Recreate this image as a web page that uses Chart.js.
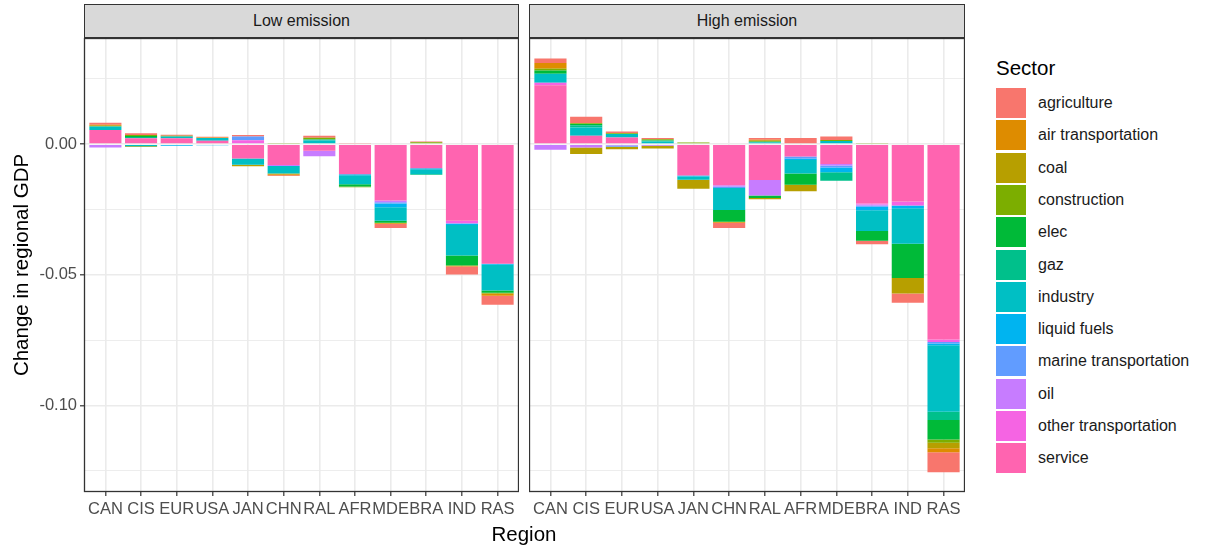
<!DOCTYPE html>
<html>
<head>
<meta charset="utf-8">
<script src="https://cdn.jsdelivr.net/npm/chart.js@4.4.0/dist/chart.umd.min.js"></script>
<style>
  html, body { margin: 0; padding: 0; background: #fff; }
  body { width: 1208px; height: 546px; overflow: hidden; position: relative; font-family: "Liberation Sans", Arial, sans-serif; }
  canvas { position: absolute; top: 0; }
  .strip { position: absolute; top: 4px; height: 34px; box-sizing: border-box; background: #D9D9D9; border: 1.3px solid #333333; color: #1A1A1A; font-size: 16px; text-align: center; line-height: 31px; z-index: 2; }
  .xtitle { position: absolute; left: 424px; width: 200px; top: 522px; height: 24px; line-height: 24px; text-align: center; font-size: 20.5px; color: #000; }
  .legend { position: absolute; left: 996px; top: 56px; }
  .legend .ltitle { position: absolute; left: 0; top: 0; font-size: 20.5px; line-height: 24px; color: #000; white-space: nowrap; }
  .legend .item { position: absolute; left: 0; height: 30px; white-space: nowrap; }
  .legend .box { position: absolute; left: 0; top: 0; width: 30px; height: 30px; }
  .legend .lab { position: absolute; left: 42px; top: 0; line-height: 30px; font-size: 16px; color: #1A1A1A; }
</style>
</head>
<body>
<canvas id="cLow" width="519" height="546" style="left:0px;width:519px;height:546px"></canvas>
<canvas id="cHigh" width="436" height="546" style="left:529px;width:436px;height:546px"></canvas>
<div class="strip" style="left:84px;width:435px">Low emission</div>
<div class="strip" style="left:529px;width:436px">High emission</div>
<div class="xtitle">Region</div>
<div class="legend" id="legend"></div>
<script>
// ---- categories & series ----
const regions = ["CAN","CIS","EUR","USA","JAN","CHN","RAL","AFR","MDE","BRA","IND","RAS"];
const sectors = ["agriculture","air transportation","coal","construction","elec","gaz","industry","liquid fuels","marine transportation","oil","other transportation","service"];
const sectorColors = ["#F8766D","#DE8C00","#B79F00","#7CAE00","#00BA38","#00C08B","#00BFC4","#00B4F0","#619CFF","#C77CFF","#F564E3","#FF64B0"];
const yTickValues = [-0.125,-0.1,-0.075,-0.05,-0.025,0,0.025];
const yTickLabels = ["","-0.10","","-0.05","","0.00",""];

// Low emission scenario (per sector, by region)
const low_agriculture  = [0.0008, 0.0007, 0.0004, 0.0003, 0.0006,-0.0003, 0.0008, 0.0002,-0.0015, 0.0003,-0.0031,-0.0035];
const low_air          = [0.0004, 0,      0,      0.0002, 0,     -0.0004, 0,      0,     -0.0003, 0,     -0.0004,-0.0008];
const low_coal         = [0,     -0.0003, 0,      0,     -0.0006,-0.0003, 0,      0,     -0.0002, 0,      0,      0];
const low_construction = [0.0003, 0.0004, 0.0003, 0,      0,      0.0002, 0.0006,-0.0003, 0,      0.0007, 0,     -0.0003];
const low_elec         = [0,      0.0004, 0,      0,      0,      0,      0,     -0.0008,-0.0008, 0,     -0.0038,-0.0009];
const low_gaz          = [0,      0.0005, 0,      0,      0,      0,      0.0004, 0,      0,     -0.0003, 0,      0];
const low_industry     = [0.0013,-0.0008, 0.0007, 0.0010,-0.0024,-0.0028, 0.0014,-0.0035,-0.0051,-0.0018,-0.0117,-0.0098];
const low_liquid       = [0,      0,     -0.0003,-0.0004, 0,      0,      0,     -0.0004,-0.0015,-0.0004,-0.0004,-0.0004];
const low_marine       = [0,      0,     -0.0003, 0,      0.0014, 0,      0,      0,     -0.0005, 0,     -0.0002, 0];
const low_oil          = [-0.0013,0,      0,      0,      0,     -0.0004,-0.0021, 0,     -0.0006, 0,      0,      0];
const low_other        = [0,      0,      0,      0,      0.0015, 0,      0,      0,      0,      0,     -0.0010, 0];
const low_service      = [0.0054, 0.0022, 0.0022, 0.0013,-0.0055,-0.0080,-0.0025,-0.0115,-0.0216,-0.0092,-0.0293,-0.0458];

// High emission scenario (per sector, by region)
const high_agriculture  = [0.0018, 0.0025, 0.0006, 0.0004, 0,     -0.0020, 0.0006, 0.0020, 0.0013,-0.0013,-0.0035,-0.0076];
const high_air          = [0.0020, 0,      0,      0,      0,     -0.0004, 0.0004, 0,      0,      0,      0,     -0.0015];
const high_coal         = [0.0003,-0.0025,-0.0010,-0.0011,-0.0035, 0,     -0.0005,-0.0025, 0,      0,     -0.0060,-0.0021];
const high_construction = [0.0005, 0.0003, 0.0003, 0.0005, 0.0006, 0,      0.0004, 0.0003, 0.0004, 0.0002, 0,     -0.0013];
const high_elec         = [0.0013, 0.0005, 0,      0,      0,     -0.0045,-0.0009,-0.0043, 0,     -0.0038,-0.0131,-0.0074];
const high_gaz          = [0,      0.0008, 0,      0.0004, 0,      0,      0.0003, 0,     -0.0032, 0,      0,     -0.0032];
const high_industry     = [0.0034, 0.0032, 0.0014, 0.0010,-0.0012,-0.0084, 0.0006,-0.0051, 0.0012,-0.0079,-0.0136,-0.0254];
const high_liquid       = [0,      0,      0,      0,     -0.0004, 0,      0,     -0.0006,-0.0019,-0.0013,-0.0010,-0.0007];
const high_marine       = [0,      0,     -0.0005, 0,      0,     -0.0006, 0,     -0.0008,-0.0007,-0.0005, 0,     -0.0006];
const high_oil          = [-0.0022,-0.0013,-0.0005,-0.0006,0,     -0.0005,-0.0060, 0,     -0.0006,-0.0004, 0,      0];
const high_other        = [0.0010, 0,      0,      0,      0,      0,      0,      0,      0,     -0.0004,-0.0015,-0.0009];
const high_service      = [0.0225, 0.0032, 0.0025, 0,     -0.0120,-0.0157,-0.0137,-0.0047,-0.0076,-0.0227,-0.0220,-0.0748];

const lowSeries  = [low_agriculture, low_air, low_coal, low_construction, low_elec, low_gaz, low_industry, low_liquid, low_marine, low_oil, low_other, low_service];
const highSeries = [high_agriculture, high_air, high_coal, high_construction, high_elec, high_gaz, high_industry, high_liquid, high_marine, high_oil, high_other, high_service];

// ---- helpers ----
const FONT = "'Liberation Sans', Arial, sans-serif";
const isMajor = v => Math.abs(Math.round(v * 1000) % 50) === 0;

function buildDatasets(series) {
  // ggplot stacks the last factor level nearest zero: add in reverse order
  const ds = [];
  for (let i = sectors.length - 1; i >= 0; i--) {
    ds.push({
      label: sectors[i],
      data: series[i].map(v => (v === 0 ? null : v)),
      backgroundColor: sectorColors[i],
      borderWidth: 0,
      barPercentage: 0.9,
      categoryPercentage: 1.0
    });
  }
  return ds;
}

const panelBorder = {
  id: 'panelBorder',
  afterDraw(chart) {
    const a = chart.chartArea, ctx = chart.ctx;
    ctx.save();
    ctx.strokeStyle = '#333333';
    ctx.lineWidth = 1.3;
    ctx.strokeRect(a.left + 0.5, a.top + 0.5, a.right - a.left - 1, a.bottom - a.top - 1);
    ctx.restore();
  }
};

function makeChart(id, series, showY) {
  return new Chart(document.getElementById(id), {
    type: 'bar',
    data: { labels: regions.map((_, i) => i), datasets: buildDatasets(series) },
    plugins: [panelBorder],
    options: {
      responsive: false,
      animation: false,
      events: [],
      layout: { padding: { top: 38, left: 0, right: 0, bottom: 0 } },
      plugins: { legend: { display: false }, tooltip: { enabled: false }, title: { display: false } },
      scales: {
        x: {
          type: 'linear',
          stacked: true,
          offset: false,
          min: -0.6,
          max: 11.6,
          afterBuildTicks: axis => { axis.ticks = regions.map((_, i) => ({ value: i })); },
          afterFit: axis => { axis.height = 54; axis.paddingLeft = 0; axis.paddingRight = 0; },
          border: { display: false },
          grid: { offset: false, color: '#EBEBEB', lineWidth: 1.6, drawTicks: true, tickLength: 4, tickColor: '#333333', tickWidth: 1.2 },
          ticks: {
            autoSkip: false, maxRotation: 0, minRotation: 0, padding: 4,
            color: '#4D4D4D', font: { family: FONT, size: 16.5 },
            callback: v => regions[v]
          }
        },
        y: {
          stacked: true,
          min: -0.1331,
          max: 0.0406,
          afterBuildTicks: axis => { axis.ticks = yTickValues.map(v => ({ value: v })); },
          afterFit: axis => { axis.width = showY ? 84 : 0; },
          border: { display: false },
          grid: {
            color: '#EBEBEB',
            lineWidth: c => (c.tick && isMajor(c.tick.value) ? 1.6 : 0.9),
            drawTicks: showY,
            tickLength: 4,
            tickWidth: 1.2,
            tickColor: c => (c.tick && isMajor(c.tick.value) ? '#333333' : 'rgba(0,0,0,0)')
          },
          ticks: {
            display: showY,
            padding: 3,
            color: '#4D4D4D',
            font: { family: FONT, size: 16.5 },
            callback: (v) => { const k = yTickValues.findIndex(t => Math.abs(t - v) < 1e-9); return k >= 0 ? yTickLabels[k] : ''; }
          },
          title: {
            display: showY,
            text: 'Change in regional GDP',
            color: '#000000',
            font: { family: FONT, size: 20.5 },
            padding: { top: 10, bottom: 0 }
          }
        }
      }
    }
  });
}

makeChart('cLow', lowSeries, true);
makeChart('cHigh', highSeries, false);

// ---- legend ----
const leg = document.getElementById('legend');
const t = document.createElement('div');
t.className = 'ltitle'; t.textContent = 'Sector';
leg.appendChild(t);
sectors.forEach((s, i) => {
  const it = document.createElement('div');
  it.className = 'item';
  it.style.top = (32 + i * 32.3) + 'px';
  const b = document.createElement('div'); b.className = 'box'; b.style.background = sectorColors[i];
  const l = document.createElement('div'); l.className = 'lab'; l.textContent = s;
  it.appendChild(b); it.appendChild(l); leg.appendChild(it);
});
</script>
</body>
</html>
